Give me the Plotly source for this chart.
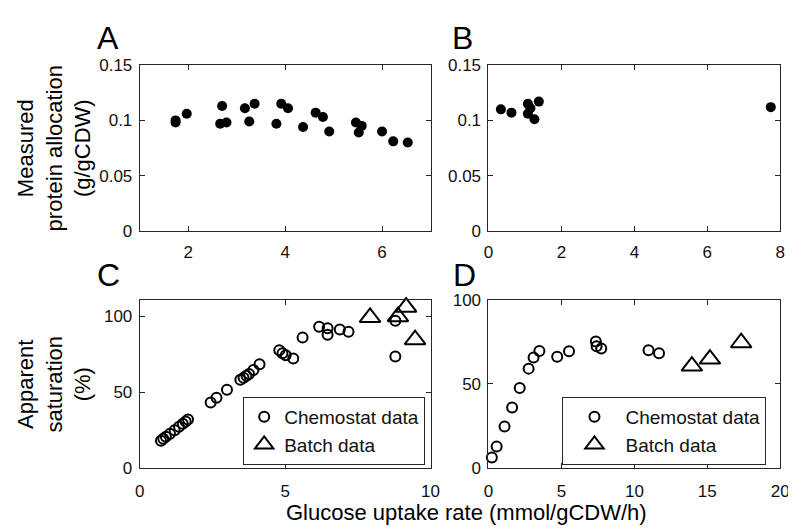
import plotly.graph_objects as go

# Panel A: measured protein allocation vs glucose uptake
a_x = [1.74, 1.74, 1.97, 2.70, 2.66, 2.79, 3.17, 3.37, 3.26, 3.82, 3.92, 4.06,
       4.37, 4.63, 4.78, 4.91, 5.46, 5.58, 5.52, 6.00, 6.23, 6.53]
a_y = [0.100, 0.098, 0.106, 0.113, 0.097, 0.098, 0.111, 0.115, 0.099, 0.097, 0.115, 0.111,
       0.094, 0.107, 0.103, 0.090, 0.098, 0.095, 0.089, 0.090, 0.081, 0.080]

# Panel B
b_x = [0.34, 0.63, 1.08, 1.08, 1.15, 1.26, 1.38, 7.74]
b_y = [0.110, 0.107, 0.115, 0.106, 0.111, 0.101, 0.117, 0.112]

# Panel C: apparent saturation
c_chem_x = [0.73, 0.81, 0.90, 1.04, 1.20, 1.35, 1.48, 1.58, 1.66, 2.44, 2.64, 3.00,
            3.46, 3.57, 3.67, 3.76, 3.91, 4.12, 4.80, 4.91, 5.02, 5.28, 5.60, 6.17,
            6.46, 6.46, 6.88, 7.18, 8.79, 8.79]
c_chem_y = [17.8, 19.1, 20.4, 22.5, 24.8, 27.0, 29.1, 30.6, 31.8, 43.1, 46.3, 51.6,
            58.2, 59.4, 60.7, 62.0, 64.5, 68.4, 77.7, 75.6, 74.3, 72.2, 86.0, 93.2,
            92.1, 87.9, 91.3, 89.8, 97.2, 73.5]
c_batch_x = [7.92, 8.88, 9.16, 9.47]
c_batch_y = [99.3, 99.8, 106.1, 84.6]

# Panel D
d_chem_x = [0.23, 0.56, 1.10, 1.62, 2.14, 2.75, 3.09, 3.49, 4.71, 5.52, 7.36, 7.41,
            7.73, 10.97, 11.69]
d_chem_y = [6.1, 12.6, 24.6, 35.9, 47.5, 59.0, 65.6, 69.5, 66.0, 69.3, 75.2, 72.3,
            71.0, 70.0, 68.1]
d_batch_x = [13.94, 15.18, 17.32]
d_batch_y = [60.5, 64.7, 74.4]

legend_names = ["Chemostat data", "Batch data"]
panel_letters = ["A", "B", "C", "D"]

W, H = 796, 529
FONT = "Liberation Sans, Arial, Helvetica, sans-serif"
AX = "#262626"

def px_x(p):
    return p / W

def px_y(p):
    return 1 - p / H

left_dom = [px_x(129), px_x(425)]
right_dom = [px_x(484), px_x(781)]
top_dom = [px_y(221.7), px_y(50)]
bot_dom = [px_y(467.5), px_y(293.3)]

fig = go.Figure()

dot = dict(symbol="circle", size=10, color="black")
circ = dict(symbol="circle-open", size=10, color="black", line=dict(width=2, color="black"))
tri = dict(symbol="triangle-up-open", size=18, color="black", line=dict(width=2, color="black"))

fig.add_trace(go.Scatter(x=a_x, y=a_y, mode="markers", marker=dot, xaxis="x", yaxis="y",
                         showlegend=False, cliponaxis=False))
fig.add_trace(go.Scatter(x=b_x, y=b_y, mode="markers", marker=dot, xaxis="x2", yaxis="y2",
                         showlegend=False, cliponaxis=False))
fig.add_trace(go.Scatter(x=c_chem_x, y=c_chem_y, mode="markers", marker=circ, xaxis="x3", yaxis="y3",
                         name=legend_names[0], legend="legend", cliponaxis=False))
fig.add_trace(go.Scatter(x=c_batch_x, y=c_batch_y, mode="markers", marker=tri, xaxis="x3", yaxis="y3",
                         name=legend_names[1], legend="legend", cliponaxis=False))
fig.add_trace(go.Scatter(x=d_chem_x, y=d_chem_y, mode="markers", marker=circ, xaxis="x4", yaxis="y4",
                         name=legend_names[0], legend="legend2", cliponaxis=False))
fig.add_trace(go.Scatter(x=d_batch_x, y=d_batch_y, mode="markers", marker=tri, xaxis="x4", yaxis="y4",
                         name=legend_names[1], legend="legend2", cliponaxis=False))

def axis(dom, rng, tickvals, ticktext=None, anchor=None, standoff=0):
    d = dict(domain=dom, range=rng, tickvals=tickvals, showline=True, linecolor=AX, linewidth=1,
             mirror="ticks", ticks="inside", ticklen=5, tickwidth=1, tickcolor=AX,
             showgrid=False, zeroline=False, anchor=anchor, ticklabelstandoff=standoff,
             tickfont=dict(family=FONT, size=17, color="#111111"))
    if ticktext is not None:
        d["ticktext"] = ticktext
    return d

fig.update_layout(
    width=W, height=H, margin=dict(l=0, r=0, t=0, b=0),
    paper_bgcolor="white", plot_bgcolor="white",
    xaxis=axis(left_dom, [1, 7], [2, 4, 6], anchor="y", standoff=6),
    yaxis=axis(top_dom, [0, 0.15], [0, 0.05, 0.1, 0.15], ["0", "0.05", "0.1", "0.15"], anchor="x", standoff=3),
    xaxis2=axis(right_dom, [0, 8], [0, 2, 4, 6, 8], anchor="y2", standoff=6),
    yaxis2=axis(top_dom, [0, 0.15], [0, 0.05, 0.1, 0.15], ["0", "0.05", "0.1", "0.15"], anchor="x2", standoff=3),
    xaxis3=axis(left_dom, [0, 10], [0, 5, 10], anchor="y3", standoff=8),
    yaxis3=axis(bot_dom, [0, 111], [0, 50, 100], anchor="x3", standoff=3),
    xaxis4=axis(right_dom, [0, 20], [0, 5, 10, 15, 20], anchor="y4", standoff=8),
    yaxis4=axis(bot_dom, [0, 100], [0, 50, 100], anchor="x4", standoff=3),
    legend=dict(x=px_x(234.3), y=px_y(394), xanchor="left", yanchor="top",
                bordercolor=AX, borderwidth=1, bgcolor="white",
                font=dict(family=FONT, size=19, color="#111111"), itemwidth=30,
                tracegroupgap=0),
    legend2=dict(x=px_x(559.3), y=px_y(394), xanchor="left", yanchor="top",
                 bordercolor=AX, borderwidth=1, bgcolor="white",
                 font=dict(family=FONT, size=19, color="#111111"), itemwidth=52,
                 tracegroupgap=0),
)

letters_pos = [(96.5, 21.5), (458, 21.5), (97, 268), (460, 268)]
for letter, (lx, ly) in zip(panel_letters, letters_pos):
    fig.add_annotation(x=px_x(lx), y=px_y(ly), xref="paper", yref="paper", text=letter,
                       showarrow=False, xanchor="center", yanchor="middle",
                       font=dict(family=FONT, size=32, color="black"))

ylab_top = "Measured<br>protein allocation<br>(g/gCDW)"
ylab_bot = "Apparent<br>saturation<br>(%)"
xlab = "Glucose uptake rate (mmol/gCDW/h)"

fig.add_annotation(x=px_x(42), y=px_y(136), xref="paper", yref="paper", text=ylab_top,
                   textangle=-90, showarrow=False, xanchor="center", yanchor="middle",
                   font=dict(family=FONT, size=22, color="black"))
fig.add_annotation(x=px_x(42), y=px_y(381), xref="paper", yref="paper", text=ylab_bot,
                   textangle=-90, showarrow=False, xanchor="center", yanchor="middle",
                   font=dict(family=FONT, size=22, color="black"))
fig.add_annotation(x=px_x(462), y=px_y(514), xref="paper", yref="paper", text=xlab,
                   showarrow=False, xanchor="center", yanchor="middle",
                   font=dict(family=FONT, size=22, color="black"))

fig.write_html("out.html")
